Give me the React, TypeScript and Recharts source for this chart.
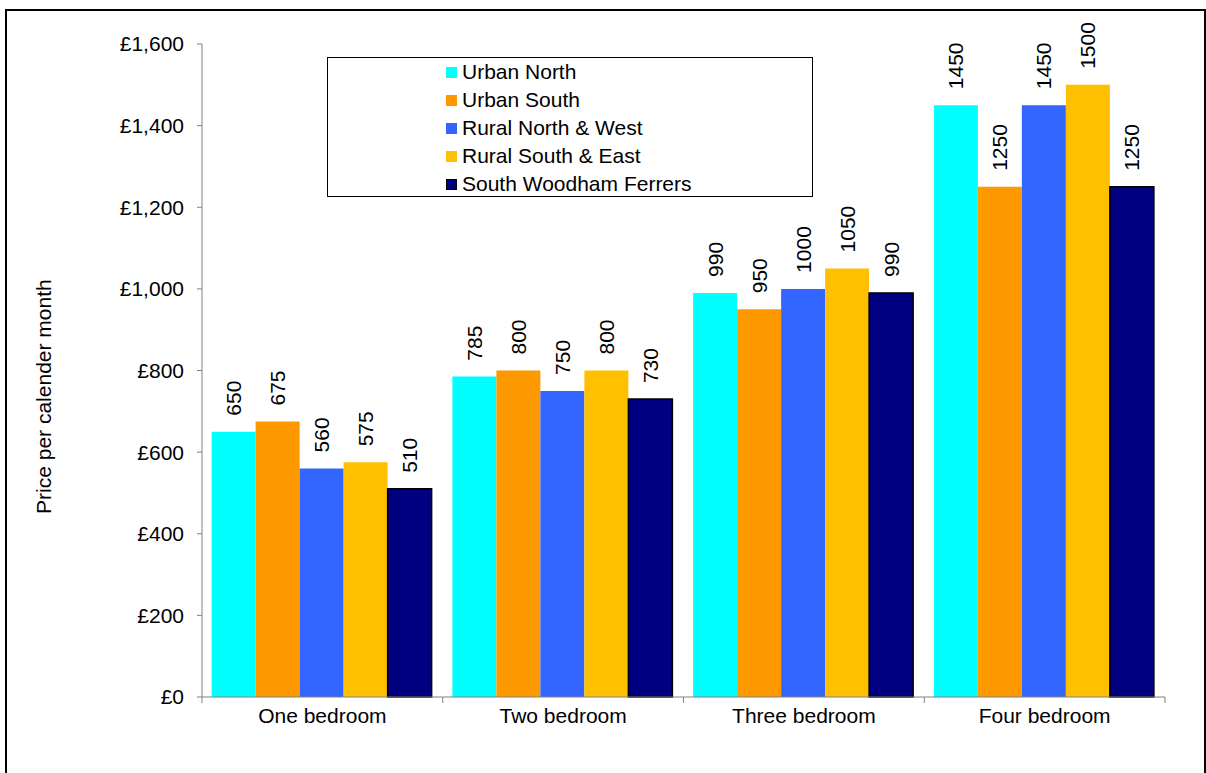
import React from "react";
import { BarChart, Bar, XAxis, YAxis, Legend, LabelList, Label } from "recharts";

const categories = ["One bedroom", "Two bedroom", "Three bedroom", "Four bedroom"];
const urbanNorth = [650, 785, 990, 1450];
const urbanSouth = [675, 800, 950, 1250];
const ruralNorthWest = [560, 750, 1000, 1450];
const ruralSouthEast = [575, 800, 1050, 1500];
const southWoodham = [510, 730, 990, 1250];
const yTicks = [0, 200, 400, 600, 800, 1000, 1200, 1400, 1600];

const seriesList = [
    { key: "urbanNorth", name: "Urban North", values: urbanNorth, color: "#00FFFF", stroke: "none" },
    { key: "urbanSouth", name: "Urban South", values: urbanSouth, color: "#FF9900", stroke: "none" },
    { key: "ruralNW", name: "Rural North & West", values: ruralNorthWest, color: "#3366FF", stroke: "none" },
    { key: "ruralSE", name: "Rural South & East", values: ruralSouthEast, color: "#FFC000", stroke: "none" },
    { key: "swf", name: "South Woodham Ferrers", values: southWoodham, color: "#000080", stroke: "#000000" },
];

const chartData = categories.map((category, i) => {
    const row: Record<string, string | number> = { category };
    seriesList.forEach((s) => {
        row[s.key] = s.values[i];
    });
    return row;
});

const FONT = "'Liberation Sans', Arial, sans-serif";
const AXIS_GREY = "#808080";

// category label centred, tick marks on the boundaries between groups
function CategoryTick(props: any) {
    const { x, y, payload, index, visibleTicksCount } = props;
    const half = payload.offset ?? 0;
    const axisY = y - 6;
    return (
        <g>
            <line x1={x - half} x2={x - half} y1={axisY} y2={y} stroke={AXIS_GREY} />
            {index === visibleTicksCount - 1 && (
                <line x1={x + half} x2={x + half} y1={axisY} y2={y} stroke={AXIS_GREY} />
            )}
            <text x={x} y={y + 20} textAnchor="middle" fontSize={21} fontFamily={FONT} fill="#000">
                {payload.value}
            </text>
        </g>
    );
}

function RotatedValue(props: any) {
    const box = props.viewBox ?? props;
    const { x, y, width } = box;
    const cx = x + width / 2;
    const ty = y - 16;
    return (
        <text
            x={cx}
            y={ty}
            transform={`rotate(-90 ${cx} ${ty})`}
            textAnchor="start"
            dominantBaseline="central"
            fontSize={21}
            fontFamily={FONT}
            fill="#000"
        >
            {props.value}
        </text>
    );
}

// legend keeps the series order, not alphabetical
function LegendBox() {
    return (
        <div
            style={{
                width: 486,
                height: 140,
                boxSizing: "border-box",
                border: "1px solid #000",
                background: "#fff",
                paddingLeft: 118,
                fontFamily: FONT,
            }}
        >
            {seriesList.map((s) => (
                <div key={s.key} style={{ height: 28, display: "flex", alignItems: "center" }}>
                    <span
                        style={{
                            width: 11,
                            height: 11,
                            boxSizing: "border-box",
                            background: s.color,
                            border: s.stroke !== "none" ? "1px solid #000" : "none",
                            display: "inline-block",
                        }}
                    />
                    <span style={{ marginLeft: 5, fontSize: 21, color: "#000" }}>{s.name}</span>
                </div>
            ))}
        </div>
    );
}

export default function App() {
    return (
        <div style={{ position: "absolute", left: 0, top: 0, width: 1206, height: 773, background: "#fff" }}>
            <div
                style={{
                    position: "absolute",
                    left: 5,
                    top: 9,
                    width: 1201,
                    height: 764,
                    boxSizing: "border-box",
                    borderTop: "2px solid #000",
                    borderLeft: "2px solid #000",
                    borderRight: "2px solid #000",
                    pointerEvents: "none",
                }}
            />
            <BarChart
                width={1206}
                height={773}
                data={chartData}
                margin={{ top: 44, right: 41, left: 0, bottom: 46 }}
                barCategoryGap="4%"
                barGap={0}
                style={{ fontFamily: FONT }}
            >
                <XAxis
                    dataKey="category"
                    height={30}
                    axisLine={{ stroke: AXIS_GREY }}
                    tickLine={false}
                    tickSize={6}
                    tickMargin={0}
                    interval={0}
                    tick={<CategoryTick />}
                />
                <YAxis
                    width={202}
                    domain={[0, 1600]}
                    ticks={yTicks}
                    interval={0}
                    axisLine={{ stroke: AXIS_GREY }}
                    tickLine={{ stroke: AXIS_GREY }}
                    tickSize={5}
                    tickMargin={13}
                    tick={{ fontSize: 21, fill: "#000", fontFamily: FONT }}
                    tickFormatter={(v: number) => `£${v.toLocaleString("en-GB")}`}
                >
                    <Label
                        content={(p: any) => {
                            const vb = p.viewBox;
                            const lx = vb.x + 44;
                            const ly = vb.y + vb.height * 0.54;
                            return (
                                <text
                                    x={lx}
                                    y={ly}
                                    transform={`rotate(-90 ${lx} ${ly})`}
                                    textAnchor="middle"
                                    dominantBaseline="central"
                                    fontSize={21}
                                    fontFamily={FONT}
                                    fill="#000"
                                >
                                    Price per calender month
                                </text>
                            );
                        }}
                    />
                </YAxis>
                <Legend
                    layout="vertical"
                    align="center"
                    verticalAlign="middle"
                    content={<LegendBox />}
                    wrapperStyle={{ left: 327, top: 57, width: 486, height: 140 }}
                />
                {seriesList.map((s) => (
                    <Bar
                        key={s.key}
                        dataKey={s.key}
                        name={s.name}
                        fill={s.color}
                        stroke={s.stroke}
                        strokeWidth={s.stroke === "none" ? 0 : 1.5}
                        isAnimationActive={false}
                    >
                        <LabelList dataKey={s.key} content={<RotatedValue />} />
                    </Bar>
                ))}
            </BarChart>
        </div>
    );
}
